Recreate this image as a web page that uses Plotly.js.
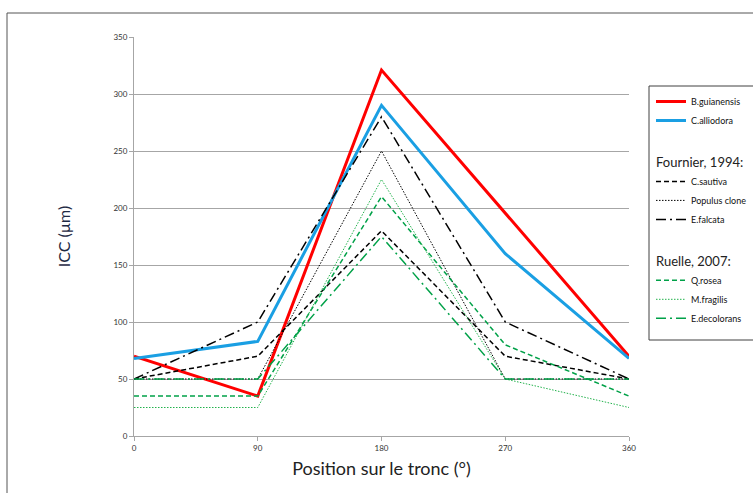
<!DOCTYPE html>
<html>
<head>
<meta charset="utf-8">
<script src="https://cdn.plot.ly/plotly-3.0.1.min.js"></script>
<style>
  html, body { margin: 0; padding: 0; background: #ffffff; }
  #chart { width: 753px; height: 493px; }
</style>
</head>
<body>
<div id="chart"></div>
<script>
// ---- data ----
var positions = [0, 90, 180, 270, 360];
var xTickLabels = ["0", "90", "180", "270", "360"];
var yTickValues = [0, 50, 100, 150, 200, 250, 300, 350];

var bGuianensis = [70, 35, 321, 195, 70];
var cAlliodora = [68, 83, 290, 160, 68];
var cSautiva = [50, 70, 180, 70, 50];
var populusClone = [50, 50, 250, 50, 50];
var eFalcata = [50, 100, 280, 100, 50];
var qRosea = [35, 35, 210, 80, 35];
var mFragilis = [25, 25, 225, 50, 25];
var eDecolorans = [50, 50, 175, 50, 50];

var groupTitleFournier = "Fournier, 1994:";
var groupTitleRuelle = "Ruelle, 2007:";

// ---- styles ----
var GREEN = "#00a148";
var FONT = "Lato, 'Open Sans', sans-serif";

function tr(name, y, color, width, dash, group, groupTitle) {
  var t = {
    type: "scatter", mode: "lines", name: name,
    x: positions, y: y,
    line: {color: color, width: width, dash: dash},
    legendgroup: group
  };
  if (groupTitle) {
    t.legendgrouptitle = {text: groupTitle, font: {size: 13, color: "#222", family: FONT}};
  }
  return t;
}

var data = [
  tr("B.guianensis", bGuianensis, "#ff0000", 3, "solid", "g0"),
  tr("C.alliodora", cAlliodora, "#1a9fe3", 3, "solid", "g0"),
  tr("C.sautiva", cSautiva, "#000000", 1.5, "5px,3px", "g1", groupTitleFournier),
  tr("Populus clone", populusClone, "#000000", 1, "1.5px,1.5px", "g1", groupTitleFournier),
  tr("E.falcata", eFalcata, "#000000", 1.5, "10px,4px,2px,4px", "g1", groupTitleFournier),
  tr("Q.rosea", qRosea, GREEN, 1.5, "5px,3px", "g2", groupTitleRuelle),
  tr("M.fragilis", mFragilis, "#22b24c", 1, "1.5px,1.5px", "g2", groupTitleRuelle),
  tr("E.decolorans", eDecolorans, GREEN, 1.5, "10px,4px,2px,4px", "g2", groupTitleRuelle)
];

var L = 134, R = 629, T = 37, B = 436, W = 753, H = 493;
function px2x(p) { return (p - L) / (R - L); }
function py2y(p) { return (B - p) / (B - T); }

var layout = {
  width: W, height: H,
  margin: {l: L, r: W - R, t: T, b: H - B, pad: 0, autoexpand: false},
  paper_bgcolor: "#ffffff",
  plot_bgcolor: "#ffffff",
  font: {family: FONT, color: "#333"},
  showlegend: true,
  xaxis: {
    range: [0, 360],
    tickvals: positions,
    ticktext: xTickLabels,
    showgrid: false,
    zeroline: false,
    showline: true, linecolor: "#a6a6a6", linewidth: 1,
    ticks: "outside", ticklen: 4, tickcolor: "#a6a6a6",
    tickfont: {size: 8, color: "#333", family: FONT},
    title: {text: "Position sur le tronc (°)", font: {size: 18, color: "#222", family: FONT}, standoff: 10}
  },
  yaxis: {
    range: [0, 350],
    tickvals: yTickValues,
    showgrid: true, gridcolor: "#a6a6a6", gridwidth: 1,
    zeroline: false,
    showline: true, linecolor: "#a6a6a6", linewidth: 1,
    ticks: "outside", ticklen: 4, tickcolor: "#a6a6a6",
    tickfont: {size: 8, color: "#333", family: FONT},
    title: {text: "ICC (µm)", font: {size: 16, color: "#1f2a44", family: FONT}, standoff: 38}
  },
  legend: {
    x: px2x(651), y: py2y(87), xanchor: "left", yanchor: "top",
    bgcolor: "rgba(255,255,255,0)", borderwidth: 0,
    font: {size: 9, color: "#111", family: FONT},
    traceorder: "grouped",
    tracegroupgap: 22,
    itemwidth: 30
  },
  shapes: [
    {type: "rect", xref: "paper", yref: "paper",
     x0: px2x(7), x1: px2x(800), y0: py2y(520), y1: py2y(13),
     line: {color: "#555555", width: 1}, fillcolor: "rgba(0,0,0,0)", layer: "below"},
    {type: "rect", xref: "paper", yref: "paper",
     x0: px2x(649), x1: px2x(800), y0: py2y(340), y1: py2y(86),
     line: {color: "#404040", width: 1}, fillcolor: "rgba(0,0,0,0)", layer: "above"}
  ]
};

Plotly.newPlot("chart", data, layout, {displayModeBar: false, staticPlot: true});
</script>
</body>
</html>
